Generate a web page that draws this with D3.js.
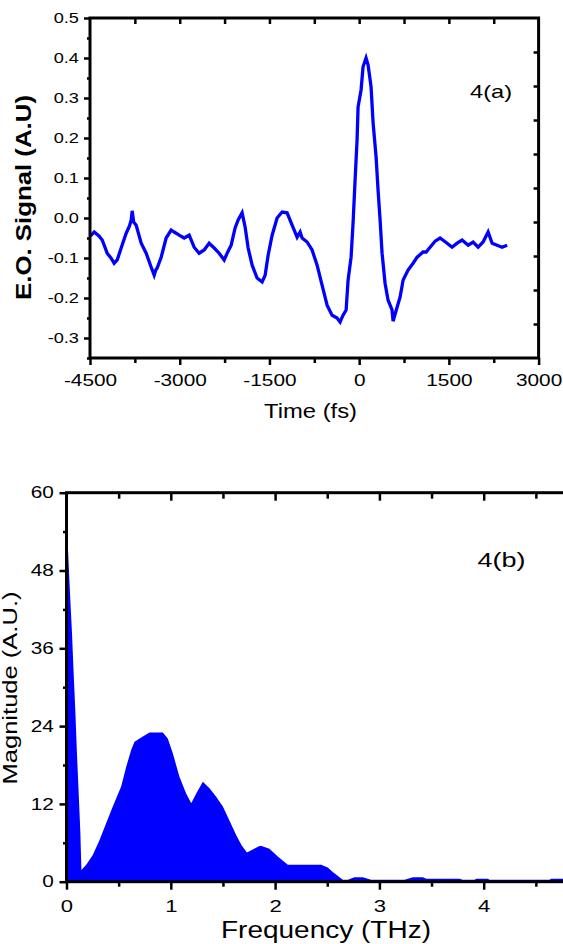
<!DOCTYPE html>
<html><head><meta charset="utf-8">
<script src="https://cdn.jsdelivr.net/npm/d3@7"></script>
<style>body{margin:0;background:#fff}svg{display:block;font-family:"Liberation Sans",Arial,sans-serif}</style>
</head><body><svg id="c" width="563" height="944"></svg>
<script>
// ---- Panel 4(a): E.O. signal vs time ----
const timeFs = [-4490,-4430,-4350,-4296,-4213,-4150,-4096,-4045,-3979,-3895,-3840,-3811,-3795,-3770,-3728,-3644,-3561,-3477,-3427,-3400,-3377,-3310,-3227,-3143,-3093,-3009,-2926,-2842,-2759,-2675,-2592,-2508,-2424,-2341,-2257,-2207,-2140,-2074,-2023,-1957,-1906,-1856,-1789,-1706,-1622,-1572,-1522,-1455,-1372,-1288,-1205,-1121,-1037,-987,-954,-870,-787,-703,-620,-536,-453,-369,-319,-269,-218,-185,-135,-102,-68,-35,-18,32,65,115,149,199,233,283,316,350,383,433,483,550,567,634,684,735,818,902,969,1069,1120,1186,1270,1353,1470,1554,1638,1721,1822,1905,1989,2072,2156,2223,2306,2390,2474];
const eoSignal = [-0.045,-0.035,-0.045,-0.055,-0.088,-0.10,-0.113,-0.105,-0.075,-0.038,-0.02,-0.005,0.018,-0.01,-0.018,-0.063,-0.088,-0.123,-0.143,-0.13,-0.125,-0.098,-0.05,-0.03,-0.035,-0.043,-0.05,-0.043,-0.073,-0.088,-0.08,-0.063,-0.075,-0.088,-0.105,-0.088,-0.068,-0.025,-0.005,0.013,-0.023,-0.075,-0.118,-0.15,-0.16,-0.143,-0.093,-0.043,0.0,0.015,0.013,-0.018,-0.048,-0.035,-0.05,-0.06,-0.08,-0.118,-0.168,-0.218,-0.243,-0.25,-0.26,-0.243,-0.23,-0.155,-0.098,-0.013,0.095,0.195,0.278,0.32,0.378,0.40,0.383,0.328,0.238,0.153,0.07,-0.005,-0.088,-0.163,-0.205,-0.23,-0.258,-0.223,-0.198,-0.155,-0.13,-0.113,-0.098,-0.085,-0.085,-0.073,-0.058,-0.05,-0.063,-0.073,-0.063,-0.055,-0.068,-0.06,-0.073,-0.06,-0.035,-0.063,-0.068,-0.073,-0.068];
const timeTicks = [-4500,-3000,-1500,0,1500,3000];
const signalTicks = [-0.3,-0.2,-0.1,0.0,0.1,0.2,0.3,0.4,0.5];

// ---- Panel 4(b): spectrum magnitude ----
const freqTHz = [0,0.015,0.033,0.052,0.068,0.085,0.1,0.117,0.133,0.143,0.189,0.252,0.316,0.380,0.444,0.524,0.572,0.620,0.652,0.732,0.796,0.924,0.971,1.019,1.083,1.147,1.196,1.244,1.307,1.371,1.435,1.499,1.563,1.63,1.68,1.73,1.79,1.85,1.87,1.946,2.026,2.122,2.442,2.505,2.553,2.649,2.697,2.761,2.841,2.921,3.241,3.321,3.416,3.449,3.768,3.800,3.912,3.929,4.040,4.056,4.631,4.647,4.8];
const magnitude = [51,51,44.7,38.6,32.4,26.2,19.8,13.6,7.5,1.8,2.6,4.1,6.4,9.0,11.6,14.7,17.7,20.3,21.6,22.4,23.0,23.0,22.1,19.8,16.2,13.6,12.1,13.6,15.4,14.4,13.1,11.6,9.4,7.1,5.6,4.5,5.0,5.5,5.5,5.1,3.9,2.6,2.6,2.2,1.5,0.3,0.3,0.7,0.7,0.3,0.3,0.7,0.7,0.45,0.45,0.3,0.3,0.45,0.45,0.3,0.3,0.45,0.45];
const freqTicks = [0,1,2,3,4];
const magTicks = [0,12,24,36,48,60];

const svg = d3.select("#c");
const BLUE = "#0000ff";
const STRETCH = "scale(1.3,1)";

function styleAxis(g, fontSize) {
  g.select(".domain").remove();
  g.selectAll("line").attr("stroke", "#000").attr("stroke-width", 2.5);
  g.selectAll("text").attr("fill", "#000").style("font-size", fontSize + "px").attr("transform", STRETCH);
}

// ===== Panel A =====
const xA = d3.scaleLinear().domain([-4500, 3000]).range([90, 538.6]);
const yA = d3.scaleLinear().domain([-0.35, 0.5]).range([358, 18]);
const yAR = d3.scaleLinear().domain([0, 10]).range([358, 18]);

const lineA = d3.line().x(d => xA(d[0])).y(d => yA(d[1]));
svg.append("path").datum(d3.zip(timeFs, eoSignal))
  .attr("d", lineA).attr("fill", "none").attr("stroke", BLUE)
  .attr("stroke-width", 3.3).attr("stroke-linejoin", "miter");

// left axis
svg.append("g").attr("transform", `translate(${xA.range()[0]},0)`)
  .call(d3.axisLeft(yA).tickValues(signalTicks).tickSize(6).tickPadding(2.5).tickFormat(d => d.toFixed(1)))
  .call(g => styleAxis(g, 14));
svg.append("g").attr("transform", `translate(${xA.range()[0]},0)`)
  .call(d3.axisLeft(yA).tickValues(d3.range(-0.35, 0.5, 0.1)).tickSize(3).tickFormat(""))
  .call(g => styleAxis(g, 14));
// right axis (inward)
svg.append("g").attr("transform", `translate(${xA.range()[1]},0)`)
  .call(d3.axisLeft(yAR).tickValues(d3.range(1, 10)).tickSize(5).tickFormat(""))
  .call(g => styleAxis(g, 14));
// bottom axis
svg.append("g").attr("transform", `translate(0,${yA.range()[0]})`)
  .call(d3.axisBottom(xA).tickValues(timeTicks).tickSize(7).tickPadding(10).tickFormat(d => String(d)))
  .call(g => styleAxis(g, 16));
svg.append("g").attr("transform", `translate(0,${yA.range()[0]})`)
  .call(d3.axisBottom(xA).tickValues(d3.range(-3750, 3000, 1500)).tickSize(5).tickFormat(""))
  .call(g => styleAxis(g, 16));
// top axis (inward)
svg.append("g").attr("transform", `translate(0,${yA.range()[1]})`)
  .call(d3.axisBottom(xA).tickValues(d3.range(-3750, 3000, 750)).tickSize(6).tickFormat(""))
  .call(g => styleAxis(g, 16));
// frame
svg.append("rect").attr("x", xA.range()[0]).attr("y", yA.range()[1])
  .attr("width", xA.range()[1] - xA.range()[0]).attr("height", yA.range()[0] - yA.range()[1])
  .attr("fill", "none").attr("stroke", "#000").attr("stroke-width", 3);

svg.append("text").attr("x", 310.5).attr("y", 418).attr("text-anchor", "middle")
  .style("font-size", "21px").attr("textLength", 93).attr("lengthAdjust", "spacingAndGlyphs").text("Time (fs)");
svg.append("text").attr("transform", "translate(31,197.5) rotate(-90)").attr("text-anchor", "middle")
  .style("font-size", "22px").style("font-weight", "bold").attr("textLength", 205).attr("lengthAdjust", "spacingAndGlyphs")
  .text("E.O. Signal (A.U)");
svg.append("text").attr("x", 470).attr("y", 98).style("font-size", "19px")
  .attr("textLength", 42).attr("lengthAdjust", "spacingAndGlyphs").text("4(a)");

// ===== Panel B =====
const xB = d3.scaleLinear().domain([0, 5]).range([66.5, 588]);
const yB = d3.scaleLinear().domain([0, 60]).range([881.7, 492.7]);

const areaB = d3.area().x(d => xB(d[0])).y0(yB(0)).y1(d => yB(d[1]));
svg.append("path").datum(d3.zip(freqTHz, magnitude))
  .attr("d", areaB).attr("fill", BLUE).attr("stroke", "none");

svg.append("g").attr("transform", `translate(${xB.range()[0]},0)`)
  .call(d3.axisLeft(yB).tickValues(magTicks).tickSize(7).tickPadding(2.7).tickFormat(d => String(d)))
  .call(g => styleAxis(g, 16));
svg.append("g").attr("transform", `translate(${xB.range()[0]},0)`)
  .call(d3.axisLeft(yB).tickValues(d3.range(6, 60, 12)).tickSize(3.5).tickFormat(""))
  .call(g => styleAxis(g, 16));
svg.append("g").attr("transform", `translate(0,${yB.range()[0]})`)
  .call(d3.axisBottom(xB).tickValues(freqTicks).tickSize(8).tickPadding(10).tickFormat(d => String(d)))
  .call(g => styleAxis(g, 17));
svg.append("g").attr("transform", `translate(0,${yB.range()[0]})`)
  .call(d3.axisBottom(xB).tickValues(d3.range(0.5, 5, 1)).tickSize(5).tickFormat(""))
  .call(g => styleAxis(g, 17));
svg.append("g").attr("transform", `translate(0,${yB.range()[1]})`)
  .call(d3.axisBottom(xB).tickValues(freqTicks.slice(1)).tickSize(8).tickFormat(""))
  .call(g => styleAxis(g, 17));
svg.append("g").attr("transform", `translate(0,${yB.range()[1]})`)
  .call(d3.axisBottom(xB).tickValues(d3.range(0.5, 5, 1)).tickSize(6).tickFormat(""))
  .call(g => styleAxis(g, 17));
svg.append("rect").attr("x", xB.range()[0]).attr("y", yB.range()[1])
  .attr("width", xB.range()[1] - xB.range()[0]).attr("height", yB.range()[0] - yB.range()[1])
  .attr("fill", "none").attr("stroke", "#000").attr("stroke-width", 3);

svg.append("text").attr("x", 326).attr("y", 937.7).attr("text-anchor", "middle")
  .style("font-size", "23px").attr("textLength", 210).attr("lengthAdjust", "spacingAndGlyphs").text("Frequency (THz)");
svg.append("text").attr("transform", "translate(17,688) rotate(-90)").attr("text-anchor", "middle")
  .style("font-size", "20px").attr("textLength", 193).attr("lengthAdjust", "spacingAndGlyphs")
  .text("Magnitude (A.U.)");
svg.append("text").attr("x", 477.6).attr("y", 567).style("font-size", "20px")
  .attr("textLength", 48).attr("lengthAdjust", "spacingAndGlyphs").text("4(b)");
</script></body></html>
